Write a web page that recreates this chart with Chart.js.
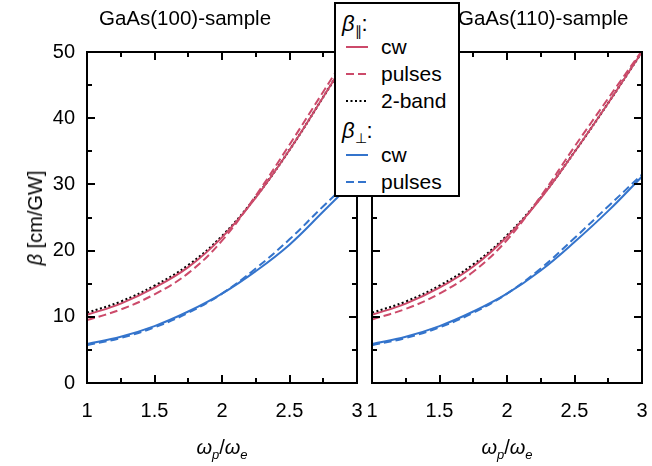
<!DOCTYPE html>
<html>
<head>
<meta charset="utf-8">
<script src="https://cdn.jsdelivr.net/npm/chart.js@4.4.1/dist/chart.umd.min.js"></script>
<style>
	html, body { margin: 0; padding: 0; background: #fff; }
	body { width: 652px; height: 466px; position: relative; overflow: hidden; font-family: "Liberation Sans", Arial, sans-serif; color: #000; }
	canvas { position: absolute; top: 0; }
	.lbl { position: absolute; white-space: nowrap; font-size: 20.5px; line-height: 24px; }
	.axt { position: absolute; white-space: nowrap; font-size: 20px; line-height: 24px; transform: translate(-50%, -50%); }
	#legend { position: absolute; left: 334px; top: 2px; width: 122px; height: 191px; border: 2px solid #000; background: #fff; z-index: 5; }
	#legend .row { position: absolute; left: 0; height: 26px; width: 122px; font-size: 21px; line-height: 26px; }
	#legend .row svg { position: absolute; left: 10px; top: 11px; }
	#legend .row span.t { position: absolute; left: 45px; top: 0; }
	#legend .hd { position: absolute; left: 6px; font-size: 22px; line-height: 26px; }
	sub { font-size: 65%; vertical-align: -0.35em; line-height: 0; }
</style>
</head>
<body>

<canvas id="chart100" width="365" height="466" style="left:0px;width:365px;height:466px;"></canvas>
<canvas id="chart110" width="287" height="466" style="left:365px;width:287px;height:466px;"></canvas>

<div class="lbl" style="left:99px;top:6px;">GaAs(100)-sample</div>
<div class="lbl" style="left:458px;top:6px;">GaAs(110)-sample</div>

<div class="axt" style="left:35px;top:218px;transform:translate(-50%,-50%) rotate(-90deg);"><i>β</i> [cm/GW]</div>
<div class="axt" style="left:222px;top:447px;"><i>ω<sub>p</sub></i>/<i>ω<sub>e</sub></i></div>
<div class="axt" style="left:507px;top:447px;"><i>ω<sub>p</sub></i>/<i>ω<sub>e</sub></i></div>

<div id="legend"></div>

<script>
// x values (omega_p / omega_e)
const xVals = [1, 1.25, 1.5, 1.75, 2, 2.25, 2.5, 2.75, 3];

// GaAs(100) sample, beta in cm/GW
const par100Cw      = [10.3, 12.0, 14.4, 17.5, 22.0, 28.0, 35.2, 43.2, 51.4];
const par100Pulses  = [9.5, 11.1, 13.4, 16.6, 21.5, 28.3, 36.0, 44.0, 52.0];
const par100TwoBand = [10.6, 12.3, 14.7, 17.8, 22.2, 28.1, 35.2, 43.2, 51.4];
const perp100Cw     = [5.9, 7.0, 8.6, 10.8, 13.5, 16.9, 20.9, 25.9, 31.0];
const perp100Pulses = [5.7, 6.8, 8.4, 10.6, 13.5, 17.3, 21.7, 26.7, 31.5];

// GaAs(110) sample
const par110Cw      = [10.3, 12.0, 14.4, 17.6, 22.1, 27.9, 34.9, 42.3, 50.0];
const par110Pulses  = [9.6, 11.2, 13.5, 16.8, 21.6, 28.2, 35.7, 43.0, 50.2];
const par110TwoBand = [10.6, 12.3, 14.7, 17.9, 22.3, 28.0, 34.9, 42.3, 50.0];
const perp110Cw     = [5.9, 7.0, 8.6, 10.8, 13.5, 17.0, 21.3, 26.0, 31.2];
const perp110Pulses = [5.7, 6.8, 8.4, 10.6, 13.5, 17.3, 21.9, 26.7, 31.5];

// axis ticks
const xMajor = [1, 1.5, 2, 2.5, 3];
const xMinor = [1.25, 1.75, 2.25, 2.75];
const yMajor = [0, 10, 20, 30, 40, 50];
const yMinor = [5, 15, 25, 35, 45];

const RED = 'rgb(204, 74, 106)';
const BLUE = 'rgb(52, 116, 204)';

function pts(ys) {
	return xVals.map((x, i) => ({x: x, y: ys[i]}));
}

function makeSets(cw, pulses, twoBand, pcw, ppulses) {
	const base = {fill: false, pointRadius: 0, borderWidth: 2, tension: 0.4};
	return [
		Object.assign({label: 'perp cw', data: pts(pcw), borderColor: BLUE}, base),
		Object.assign({label: 'perp pulses', data: pts(ppulses), borderColor: BLUE, borderDash: [8, 4]}, base),
		Object.assign({label: 'par cw', data: pts(cw), borderColor: RED}, base),
		Object.assign({label: 'par pulses', data: pts(pulses), borderColor: RED, borderDash: [8, 4]}, base),
		Object.assign({label: '2-band', data: pts(twoBand), borderColor: '#000', borderDash: [2, 2.5]}, base, {borderWidth: 2.2})
	];
}

// box around the plot area with gnuplot-like inward ticks
const frameTicks = {
	id: 'frameTicks',
	afterDraw(chart) {
		const ctx = chart.ctx;
		const a = chart.chartArea;
		const xs = chart.scales.x, ys = chart.scales.y;
		ctx.save();
		ctx.strokeStyle = '#000';
		ctx.lineWidth = 2;
		ctx.beginPath();
		const tick = (vals, len) => {
			vals.forEach(v => {
				const px = Math.round(xs.getPixelForValue(v));
				ctx.moveTo(px, a.bottom); ctx.lineTo(px, a.bottom - len);
				ctx.moveTo(px, a.top); ctx.lineTo(px, a.top + len);
			});
		};
		const ytick = (vals, len) => {
			vals.forEach(v => {
				const py = Math.round(ys.getPixelForValue(v));
				ctx.moveTo(a.left, py); ctx.lineTo(a.left + len, py);
				ctx.moveTo(a.right, py); ctx.lineTo(a.right - len, py);
			});
		};
		tick(xMajor, 8); tick(xMinor, 5);
		ytick(yMajor, 8); ytick(yMinor, 5);
		ctx.stroke();
		ctx.strokeRect(a.left, a.top, a.right - a.left, a.bottom - a.top);
		ctx.restore();
	}
};

function makeChart(id, sets, showY, padLeft, padRight) {
	return new Chart(document.getElementById(id), {
		type: 'line',
		data: {datasets: sets},
		plugins: [frameTicks],
		options: {
			responsive: false,
			animation: false,
			layout: {padding: {top: 52, right: padRight, bottom: 0, left: padLeft}},
			plugins: {legend: {display: false}, tooltip: {enabled: false}},
			scales: {
				x: {
					type: 'linear',
					min: 1,
					max: 3,
					grid: {display: false, drawTicks: false},
					border: {display: false},
					afterBuildTicks: (s) => { s.ticks = xMajor.map(v => ({value: v})); },
					// fixed height, and no extra side padding for the edge labels
					afterFit: (s) => { s.height = 83; s.paddingLeft = 0; s.paddingRight = 0; },
					ticks: {
						color: '#000',
						padding: 16,
						maxRotation: 0,
						font: {family: '"Liberation Sans", Arial, sans-serif', size: 20},
						callback: (v) => String(v)
					}
				},
				y: {
					display: showY,
					min: 0,
					max: 50,
					grid: {display: false, drawTicks: false},
					border: {display: false},
					afterBuildTicks: (s) => { s.ticks = yMajor.map(v => ({value: v})); },
					afterFit: (s) => { s.width = showY ? 87 : 0; s.paddingTop = 0; s.paddingBottom = 0; },
					ticks: {
						color: '#000',
						padding: 12,
						font: {family: '"Liberation Sans", Arial, sans-serif', size: 20}
					}
				}
			}
		}
	});
}

makeChart('chart100', makeSets(par100Cw, par100Pulses, par100TwoBand, perp100Cw, perp100Pulses), true, 0, 8);
makeChart('chart110', makeSets(par110Cw, par110Pulses, par110TwoBand, perp110Cw, perp110Pulses), false, 7, 10);

// legend, grouped by polarisation
const legendRows = [
	{head: '<i>β</i><sub>∥</sub>:', top: 7},
	{text: 'cw', color: RED, dash: '', top: 30},
	{text: 'pulses', color: RED, dash: '8 4', top: 57},
	{text: '2-band', color: '#000', dash: '2 2.5', top: 84},
	{head: '<i>β</i><sub>⊥</sub>:', top: 114},
	{text: 'cw', color: BLUE, dash: '', top: 138},
	{text: 'pulses', color: BLUE, dash: '8 4', top: 165}
];
const legend = document.getElementById('legend');
legendRows.forEach(r => {
	const d = document.createElement('div');
	if (r.head) {
		d.className = 'hd';
		d.style.top = r.top + 'px';
		d.innerHTML = r.head;
	} else {
		d.className = 'row';
		d.style.top = r.top + 'px';
		d.innerHTML = `<svg width="22" height="4"><line x1="0" y1="2" x2="22" y2="2" stroke="${r.color}" stroke-width="2" ${r.dash ? 'stroke-dasharray="' + r.dash + '"' : ''}/></svg><span class="t">${r.text}</span>`;
	}
	legend.appendChild(d);
});
</script>
</body>
</html>
